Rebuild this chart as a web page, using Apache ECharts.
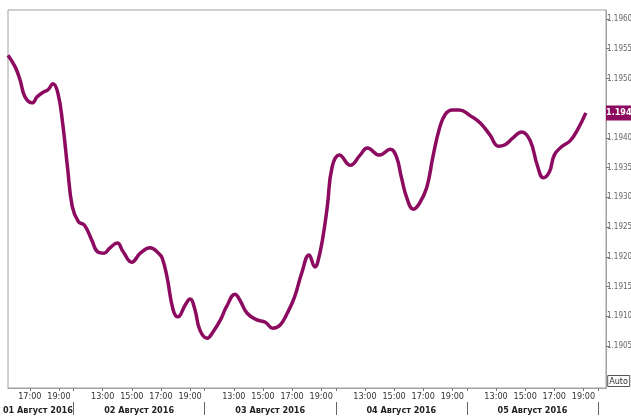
<!DOCTYPE html>
<html>
<head>
<meta charset="utf-8">
<script src="https://cdn.jsdelivr.net/npm/echarts@6/dist/echarts.min.js"></script>
<style>
html,body{margin:0;padding:0;background:#fff;}
#chart{width:631px;height:417px;}
</style>
</head>
<body>
<div id="chart"></div>
<script>
// ---- data ----
const dayLabels = ['01 Август 2016', '02 Август 2016', '03 Август 2016', '04 Август 2016', '05 Август 2016'];
const hourLabels = ['13:00', '15:00', '17:00', '19:00'];
const yTickLabels = ['1.1905', '1.1910', '1.1915', '1.1920', '1.1925', '1.1930', '1.1935', '1.1940', '1.1950', '1.1955', '1.1960'];
const times = [
  '01 15:30','01 16:00','01 16:20','01 16:40','01 17:10','01 17:30','01 17:55','01 18:15','01 18:35','01 18:55',
  '01 19:15','01 19:35','01 19:55',
  '02 11:20','02 11:45','02 12:15','02 12:40','02 13:05','02 13:30','02 14:00','02 14:25','02 15:00','02 15:35',
  '02 16:15','02 16:50','02 17:05','02 17:25','02 17:50','02 18:10','02 18:40','02 19:00','02 19:20','02 19:40',
  '03 11:10','03 11:35','03 12:05','03 12:30','03 13:05','03 13:25','03 13:55','03 14:35','03 15:10','03 15:40',
  '03 16:10','03 16:40','03 17:10','03 17:40','03 18:10','03 18:35','03 18:45','03 19:05','03 19:25','03 19:45',
  '04 11:15','04 12:00','04 12:40','04 13:10','04 14:00','04 14:45','04 15:10','04 15:30','04 15:55','04 16:20',
  '04 16:45','04 17:15','04 17:40','04 18:05','04 18:30','04 19:00','04 19:30',
  '05 11:15','05 11:55','05 12:35','05 13:10','05 13:35','05 14:10','05 14:45','05 15:20','05 15:50','05 16:15',
  '05 16:40','05 17:00','05 17:30','05 18:05','05 18:35','05 19:10'
];
const prices = [
  1.19539,1.19519,1.19497,1.19469,1.19459,1.19469,1.19477,1.19481,1.19491,1.19476,
  1.19425,1.19351,1.19284,
  1.19259,1.19253,1.19228,1.19208,1.19206,1.19215,1.19223,1.19208,1.19191,1.19206,
  1.19215,1.19206,1.19198,1.19166,1.19111,1.19099,1.19119,1.19129,1.19111,1.19077,
  1.19063,1.19074,1.19094,1.19116,1.19137,1.19127,1.19105,1.19094,1.19090,1.19080,
  1.19085,1.19105,1.19132,1.19173,1.19203,1.19183,1.19190,1.19228,1.19284,1.19351,
  1.19371,1.19354,1.19371,1.19383,1.19371,1.19381,1.19368,1.19334,1.19296,1.19280,
  1.19290,1.19317,1.19368,1.19413,1.19439,1.19447,1.19447,
  1.19437,1.19425,1.19405,1.19386,1.19388,1.19400,1.19410,1.19396,1.19354,1.19333,
  1.19343,1.19371,1.19385,1.19395,1.19413,1.19442
];

// trading session each day shown on the axis: 11:00 - 20:00
const SESSION_START = 11, SESSION_LEN = 9;
function pos(t) {
  const [d, hm] = t.split(' ');
  const [h, m] = hm.split(':').map(Number);
  return (Number(d) - 1) * SESSION_LEN + h + m / 60 - SESSION_START;
}
function hourPos(day, label) { return day * SESSION_LEN + parseInt(label, 10) - SESSION_START; }

const X_MIN = pos(times[0]);
const X_MAX = 45.55;

const hourTickVals = [];
dayLabels.forEach((_, d) => hourLabels.forEach(l => { const p = hourPos(d, l); if (p >= X_MIN) hourTickVals.push(p); }));
const boundaryVals = dayLabels.map((_, d) => (d + 1) * SESSION_LEN);
const dayCenterVals = dayLabels.map((_, d) => (Math.max(d * SESSION_LEN, X_MIN) + (d + 1) * SESSION_LEN) / 2 - (d === 0 ? 0.2 : 0));
const yVals = yTickLabels.map(Number);
const lastPrice = prices[prices.length - 1];

const FONT = "'Liberation Sans Narrow', 'DejaVu Sans Condensed', 'Liberation Sans', sans-serif";
const LINE = '#8c0a5f';

const chart = echarts.init(document.getElementById('chart'), null, {renderer: 'canvas'});
chart.setOption({
  animation: false,
  backgroundColor: '#fff',
  title: {
    text: 'Auto', right: 1, top: 375, z: 10,
    padding: [2, 2, 1, 2], borderColor: '#555', borderWidth: 1,
    textStyle: {fontSize: 9, fontWeight: 'normal', color: '#333', fontFamily: FONT}
  },
  grid: {left: 8, right: 25, top: 10, bottom: 29, outerBoundsMode: 'none', containLabel: false,
         show: true, borderColor: '#a0a0a0', borderWidth: 1, backgroundColor: '#fff'},
  xAxis: [{
    type: 'value', min: X_MIN, max: X_MAX, position: 'bottom',
    axisLine: {show: true, lineStyle: {color: '#a0a0a0'}},
    axisTick: {show: true, length: 3, customValues: hourTickVals.concat(boundaryVals), lineStyle: {color: '#777'}},
    splitLine: {show: false},
    axisLabel: {
      customValues: hourTickVals, margin: 4, fontSize: 9, color: '#333', fontFamily: FONT,
      formatter: v => hourLabels[Math.round(((v % SESSION_LEN) - 2) / 2)]
    }
  }, {
    type: 'value', min: X_MIN, max: X_MAX, position: 'bottom', offset: 14,
    axisLine: {show: false},
    axisTick: {show: true, length: 13, customValues: boundaryVals, lineStyle: {color: '#666'}},
    splitLine: {show: false},
    axisLabel: {
      customValues: dayCenterVals, margin: 4, fontSize: 9, fontWeight: 'bold', color: '#222', fontFamily: FONT,
      formatter: v => dayLabels[Math.floor(v / SESSION_LEN)]
    }
  }],
  yAxis: {
    type: 'value', position: 'right', min: 1.189793, max: 1.196151,
    axisLine: {show: true, lineStyle: {color: '#a0a0a0'}},
    axisTick: {show: true, length: 3, customValues: yVals, lineStyle: {color: '#777'}},
    splitLine: {show: false},
    axisLabel: {
      customValues: yVals, margin: 1, fontSize: 8, color: '#666', fontFamily: FONT,
      formatter: v => v.toFixed(4)
    }
  },
  series: [{
    type: 'line',
    xAxisIndex: 0, yAxisIndex: 0,
    data: times.map((t, i) => [pos(t), prices[i]]),
    smooth: 0.45,
    showSymbol: false,
    lineStyle: {color: LINE, width: 3.5},
    markLine: {
      silent: true, symbol: 'none',
      lineStyle: {color: 'rgba(0,0,0,0)', width: 0},
      data: [[{coord: [X_MIN, lastPrice]}, {coord: [X_MAX, lastPrice]}]],
      label: {
        show: true, position: 'end', distance: 0, formatter: lastPrice.toFixed(4),
        backgroundColor: LINE, color: '#fff', fontWeight: 'bold', fontSize: 9, fontFamily: FONT,
        padding: [3, 1, 3, 0]
      }
    }
  }]
});
</script>
</body>
</html>
